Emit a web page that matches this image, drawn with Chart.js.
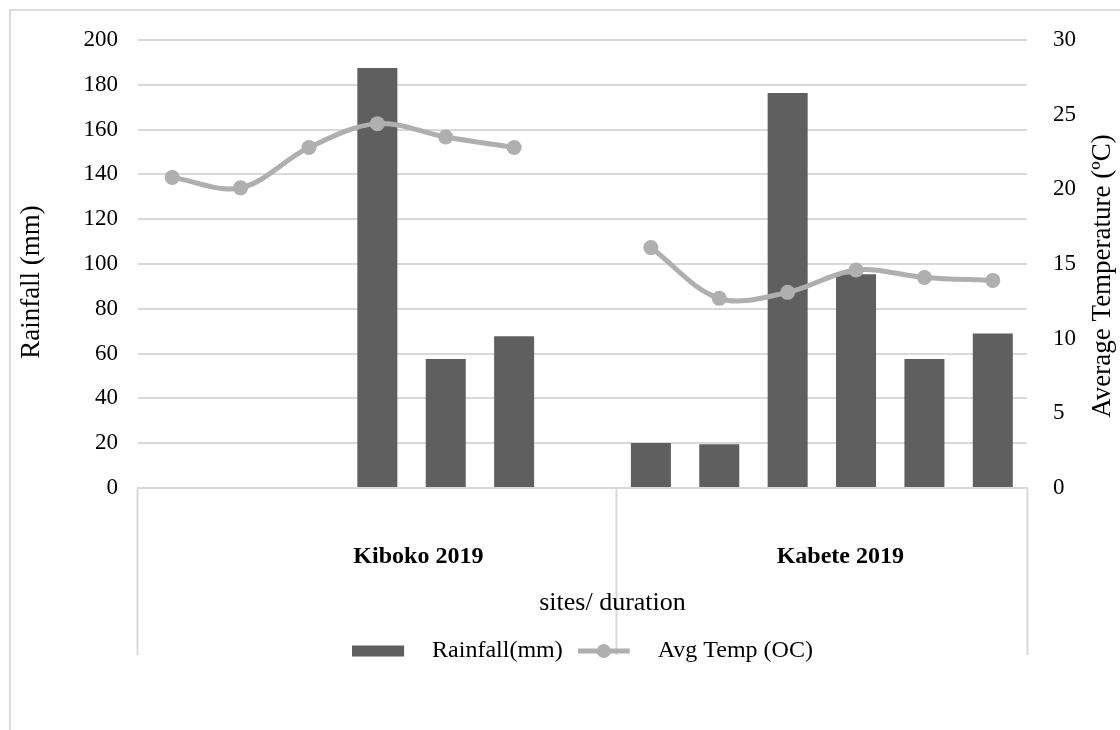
<!DOCTYPE html>
<html>
<head>
<meta charset="utf-8">
<script src="https://cdn.jsdelivr.net/npm/chart.js@4"></script>
<style>
    body { margin: 0; background: #fff; overflow: hidden; }
</style>
</head>
<body>
<canvas id="rainChart" width="1120" height="730"></canvas>
<script>
// one category per month slot, grouped by site (Kiboko has an empty 7th slot)
const categories = [
    'Kiboko 2019', 'Kiboko 2019', 'Kiboko 2019', 'Kiboko 2019', 'Kiboko 2019', 'Kiboko 2019', 'Kiboko 2019',
    'Kabete 2019', 'Kabete 2019', 'Kabete 2019', 'Kabete 2019', 'Kabete 2019', 'Kabete 2019'
];
const sites = ['Kiboko 2019', 'Kabete 2019'];
const rainfall = [null, null, null, 187.5, 57.6, 67.8, null, 20.1, 19.5, 176.3, 95.4, 57.6, 69];
const avgTemp = [20.8, 20.1, 22.8, 24.4, 23.5, 22.8, null, 16.1, 12.7, 13.1, 14.6, 14.1, 13.9];
const rainTicks = { min: 0, max: 200, step: 20 };
const tempTicks = { min: 0, max: 30, step: 5 };

const barColor = '#5f5f5f';
const lineColor = '#afafaf';
const gridColor = '#d9d9d9';
const serif = "'Liberation Serif', 'Times New Roman', serif";

// legend swatches
const barSwatch = document.createElement('canvas');
barSwatch.width = 68;
barSwatch.height = 12;
let sctx = barSwatch.getContext('2d');
sctx.fillStyle = barColor;
sctx.fillRect(0, 0.5, 52, 11);

const lineSwatch = document.createElement('canvas');
lineSwatch.width = 68;
lineSwatch.height = 16;
sctx = lineSwatch.getContext('2d');
sctx.strokeStyle = lineColor;
sctx.lineWidth = 5;
sctx.beginPath();
sctx.moveTo(0, 8);
sctx.lineTo(52, 8);
sctx.stroke();
sctx.fillStyle = lineColor;
sctx.beginPath();
sctx.arc(26, 8, 7, 0, Math.PI * 2);
sctx.fill();

const extraText = {
    id: 'extraText',
    beforeDraw(chart) {
        const ctx = chart.ctx;
        ctx.save();
        ctx.strokeStyle = '#dcdcdc';
        ctx.lineWidth = 2;
        ctx.strokeRect(10, 10, 1300, 900);
        ctx.restore();
    },
    afterDraw(chart) {
        const ctx = chart.ctx;
        const x = chart.scales.x;
        const area = chart.chartArea;
        ctx.save();
        ctx.fillStyle = '#000';
        ctx.textAlign = 'center';
        ctx.textBaseline = 'middle';

        // site group labels (sit a little right of their group centre, as in the original)
        ctx.font = 'bold 24px ' + serif;
        ctx.fillText(sites[0], x.getPixelForValue(3.6), 557);
        ctx.fillText(sites[1], x.getPixelForValue(9.77), 557);

        ctx.font = '26px ' + serif;
        ctx.fillText('sites/ duration', (area.left + area.right) / 2 + 30, 603);

        ctx.font = '27px ' + serif;
        ctx.translate(32, 282);
        ctx.rotate(-Math.PI / 2);
        ctx.fillText('Rainfall (mm)', 0, 0);
        ctx.restore();

        ctx.save();
        ctx.fillStyle = '#000';
        ctx.textAlign = 'center';
        ctx.textBaseline = 'middle';
        ctx.font = '27px ' + serif;
        ctx.translate(1103, 276);
        ctx.rotate(-Math.PI / 2);
        ctx.fillText('Average Temperature (\u00baC)', 0, 0);
        ctx.restore();
    }
};

const ctx = document.getElementById('rainChart').getContext('2d');
const rainChart = new Chart(ctx, { // eslint-disable-line
    type: 'bar',
    data: {
        labels: categories,
        datasets: [{
            type: 'line',
            label: 'Avg Temp (OC)',
            data: avgTemp,
            yAxisID: 'y2',
            borderColor: lineColor,
            backgroundColor: lineColor,
            borderWidth: 5,
            tension: 0.35,
            pointRadius: 7.5,
            pointBorderWidth: 0,
            pointBackgroundColor: lineColor,
            spanGaps: false,
            order: 1
        },
        {
            type: 'bar',
            label: 'Rainfall(mm)',
            data: rainfall,
            yAxisID: 'y',
            backgroundColor: barColor,
            barPercentage: 1,
            categoryPercentage: 0.585,
            order: 2
        }]
    },
    options: {
        responsive: false,
        animation: false,
        devicePixelRatio: 1,
        layout: {
            padding: { left: 10, right: 0, top: 40, bottom: 57 }
        },
        scales: {
            x: {
                afterFit: (scale) => { scale.height = 136; },
                grid: {
                    drawOnChartArea: false,
                    drawTicks: true,
                    tickLength: 167,
                    tickWidth: 2,
                    tickColor: (c) => (c.index === 0 || c.index === 7 || c.index === undefined) ? gridColor : 'rgba(0,0,0,0)'
                },
                border: { display: true, color: gridColor, width: 2 },
                ticks: {
                    autoSkip: false,
                    maxRotation: 0,
                    callback: () => ''
                }
            },
            y: {
                position: 'left',
                min: rainTicks.min,
                max: rainTicks.max,
                afterFit: (scale) => { scale.width = 128; },
                grid: { color: gridColor, lineWidth: 2, drawTicks: false },
                border: { display: false },
                ticks: {
                    stepSize: rainTicks.step,
                    padding: 20,
                    color: '#000',
                    font: { family: serif, size: 23 }
                }
            },
            y2: {
                position: 'right',
                min: tempTicks.min,
                max: tempTicks.max,
                afterFit: (scale) => { scale.width = 93; },
                grid: { display: false },
                border: { display: false },
                ticks: {
                    stepSize: tempTicks.step,
                    padding: 18,
                    color: '#000',
                    font: { family: serif, size: 23 }
                }
            }
        },
        plugins: {
            tooltip: { enabled: false },
            legend: {
                position: 'bottom',
                fullSize: false,
                labels: {
                    usePointStyle: true,
                    pointStyleWidth: 68,
                    padding: 15,
                    color: '#000',
                    font: { family: serif, size: 24 },
                    generateLabels: () => [
                        { text: 'Rainfall(mm)', pointStyle: barSwatch, fillStyle: barColor, strokeStyle: 'rgba(0,0,0,0)', lineWidth: 0, hidden: false, datasetIndex: 1 },
                        { text: 'Avg Temp (OC)', pointStyle: lineSwatch, fillStyle: lineColor, strokeStyle: 'rgba(0,0,0,0)', lineWidth: 0, hidden: false, datasetIndex: 0 }
                    ]
                }
            }
        }
    },
    plugins: [extraText]
});
</script>
</body>
</html>
